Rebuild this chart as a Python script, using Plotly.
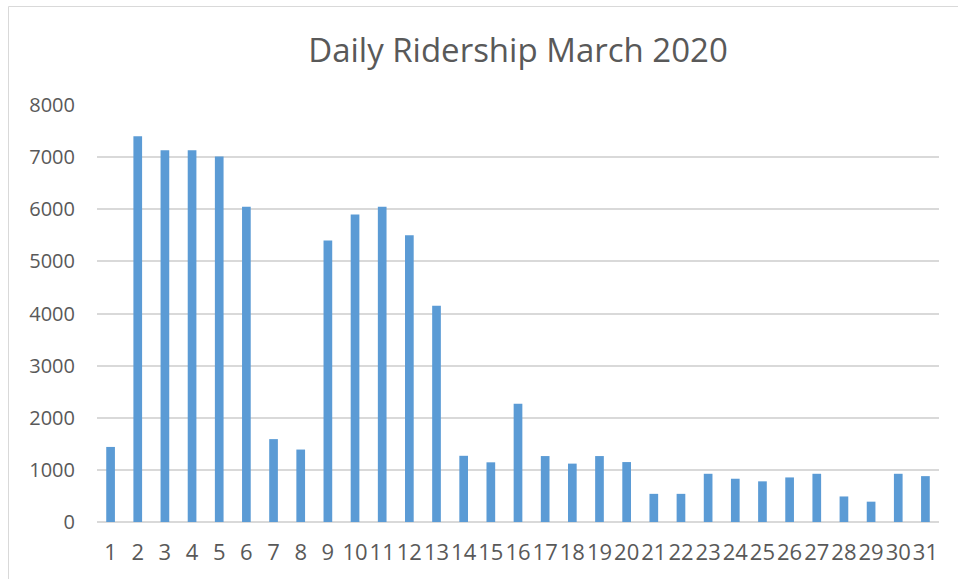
import plotly.graph_objects as go

days = [str(d) for d in range(1, 32)]
riders = [1440, 7400, 7130, 7130, 7010, 6050, 1590, 1390, 5400, 5900,
          6050, 5500, 4150, 1270, 1145, 2270, 1265, 1120, 1265, 1150,
          540, 540, 925, 830, 780, 855, 925, 490, 390, 925, 880]
y_ticks = [0, 1000, 2000, 3000, 4000, 5000, 6000, 7000, 8000]
title_text = "Daily Ridership March 2020"

W, H = 958, 579
L, R, T, B = 97, 19, 105, 57

fig = go.Figure(go.Bar(x=days, y=riders, marker=dict(color="#5B9BD5", line=dict(width=0))))

pw = W - L - R
ph = H - T - B
fig.add_shape(type="rect", xref="paper", yref="paper",
              x0=(8.5 - L) / pw, x1=(W + 5 - L) / pw,
              y0=-(H + 5 - (T + ph)) / ph, y1=1 + (T - 6.5) / ph,
              line=dict(color="#D9D9D9", width=1), fillcolor="rgba(0,0,0,0)", layer="below")

fig.update_layout(
    width=W, height=H,
    margin=dict(l=L, r=R, t=T, b=B),
    paper_bgcolor="white", plot_bgcolor="white",
    font=dict(family="Open Sans", color="#595959"),
    title=dict(text=title_text, x=0.5, xref="paper", xanchor="center",
               y=1 - 50 / H, yanchor="middle",
               font=dict(size=33, color="#595959", family="Open Sans")),
    bargap=0.68,
    showlegend=False,
)
fig.update_xaxes(type="category", showgrid=False, showline=False, ticks="", tickangle=0,
                 tickfont=dict(size=22, color="#595959"), ticklabelstandoff=15)
fig.update_yaxes(range=[0, 8000], tickvals=y_ticks, showgrid=True, gridcolor="#D9D9D9",
                 gridwidth=1.5, zeroline=True, zerolinecolor="#D9D9D9", zerolinewidth=1.5,
                 showline=False, ticks="", tickfont=dict(size=20, color="#595959"),
                 ticklabelstandoff=21)

fig.write_html("out.html", config={"displayModeBar": False},
               post_script="document.body.style.margin='0';")
